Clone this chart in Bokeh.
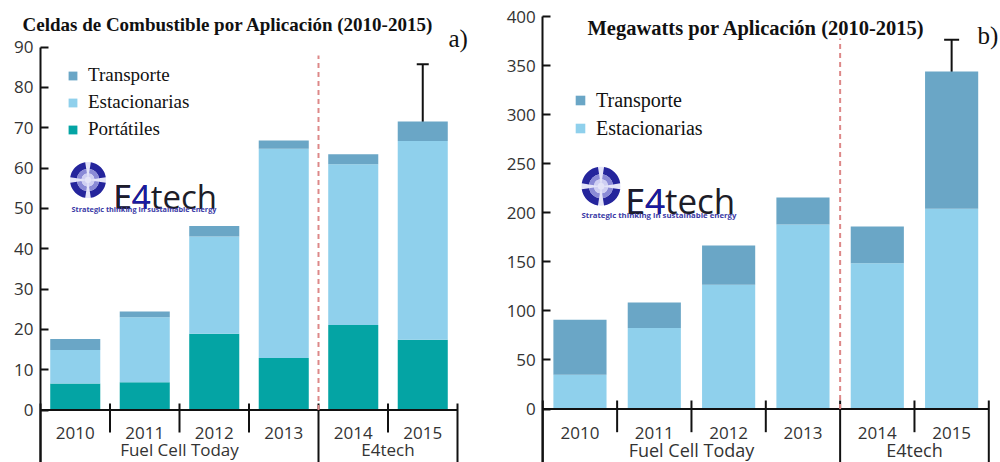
import numpy as np
from bokeh.plotting import figure
from bokeh.models import (ColumnDataSource, Label, Legend, LegendItem, Whisker,
                          TeeHead, FixedTicker, Range1d)
from bokeh.layouts import row
from bokeh.embed import file_html
from bokeh.resources import INLINE
from bokeh.core.properties import value

# ---------------- data ----------------
years = ["2010", "2011", "2012", "2013", "2014", "2015"]
sources = ["Fuel Cell Today", "Fuel Cell Today", "Fuel Cell Today", "Fuel Cell Today",
           "E4tech", "E4tech"]

# a) Fuel cells shipped by application (thousands)
fc_portatiles = [6.6, 6.9, 18.9, 12.9, 21.1, 17.4]
fc_estacionarias = [8.3, 16.1, 24.1, 51.9, 39.8, 49.3]
fc_transporte = [2.7, 1.4, 2.6, 2.0, 2.5, 4.8]
fc_error_2015 = [63.5, 85.7]
fc_ticks = [0, 10, 20, 30, 40, 50, 60, 70, 80, 90]

# b) Megawatts by application
mw_estacionarias = [35.0, 82.5, 126.5, 188.0, 148.5, 204.0]
mw_transporte = [56.0, 26.0, 40.0, 27.5, 37.5, 140.0]
mw_error_2015 = [323.6, 376.3]
mw_ticks = [0, 50, 100, 150, 200, 250, 300, 350, 400]

C_TRANS = "#6aa6c6"
C_EST = "#8fd0ec"
C_PORT = "#04a4a4"
TXT = "#333333"
INK = "#111111"
W, H = 500, 462


def make_chart(title, letter, series, labels, colors, ticks, err, *,
               axis_px, right_px, zero_px, top_px, bar_width,
               title_pos, title_size, letter_pos, legend_pos, legend_font,
               legend_glyph, legend_row, dash_top_px, tick_up_px, short_px,
               year_base_px, group_base_px, group_font, logo_px, logo_r,
               logo_text_pos, logo_font, tag_pos, tag_font, whisker_head, font_px):
    n = len(years)
    cat_w = (right_px - axis_px) / n
    y_top_tick = ticks[-1]
    scale = (zero_px - top_px) / y_top_tick          # px per unit
    x_start = -0.5 - axis_px / cat_w
    x_end = -0.5 + (W - axis_px) / cat_w
    y_end = zero_px / scale
    y_start = -(H - zero_px) / scale

    p = figure(width=W, height=H, output_backend="svg", toolbar_location=None,
               x_axis_location=None, min_border=0, min_border_left=0,
               min_border_right=0, min_border_top=0, min_border_bottom=0,
               x_range=Range1d(x_start, x_end), y_range=Range1d(y_start, y_end))
    p.outline_line_color = None
    p.xgrid.grid_line_color = None
    p.ygrid.grid_line_color = None

    # y axis, drawn at the left category edge
    ax = p.yaxis[0]
    ax.fixed_location = -0.5
    ax.bounds = (y_start, y_top_tick)
    ax.ticker = FixedTicker(ticks=ticks)
    ax.axis_line_width = 2
    ax.axis_line_color = INK
    ax.major_tick_line_width = 2
    ax.major_tick_line_color = INK
    ax.major_tick_in = 8
    ax.major_tick_out = 0
    ax.minor_tick_line_color = None
    ax.major_label_text_font = "Open Sans"
    ax.major_label_text_font_size = f"{font_px}px"
    ax.major_label_text_color = TXT
    ax.major_label_standoff = 7

    # bars
    idx = list(range(n))
    data = {"x": idx}
    for k, s in zip(labels, series):
        data[k] = s
    src = ColumnDataSource(data)
    rends = p.vbar_stack(labels, x="x", width=bar_width, color=colors, source=src,
                         line_color=None)

    # baseline
    p.segment(x0=[-0.5], y0=[0], x1=[n - 0.5], y1=[0], line_width=2, line_color=INK)

    # category separators
    up = tick_up_px / scale
    xs0, ys0, xs1, ys1 = [], [], [], []
    for i in range(n + 1):
        b = i - 0.5
        long_sep = i == 0 or i == n or sources[i - 1] != sources[i]
        xs0.append(b); xs1.append(b)
        ys0.append(up)
        ys1.append(y_start if long_sep else -short_px / scale)
    p.segment(x0=xs0, y0=ys0, x1=xs1, y1=ys1, line_width=2, line_color=INK)

    # year labels
    p.text(x=idx, y=[-year_base_px / scale] * n, text=years,
           text_font=value("Open Sans"), text_font_size=f"{font_px}px",
           text_align="center", text_baseline="alphabetic", text_color=TXT)
    # source (group) labels
    gnames, gcent = [], []
    for g in dict.fromkeys(sources):
        members = [i for i in idx if sources[i] == g]
        gnames.append(g)
        gcent.append(sum(members) / len(members))
    p.text(x=gcent, y=[-group_base_px / scale] * len(gnames), text=gnames,
           text_font=value("Open Sans"), text_font_size=f"{group_font}px",
           text_align="center", text_baseline="alphabetic", text_color=TXT)

    # dashed divider between sources
    bx = [i - 0.5 for i in range(1, n) if sources[i - 1] != sources[i]]
    dash_top = (zero_px - dash_top_px) / scale
    p.segment(x0=bx, y0=[0] * len(bx), x1=bx, y1=[dash_top] * len(bx),
              line_color="#dd8888", line_width=2, line_dash="5 4")

    # error bar on the last total
    ebar = ColumnDataSource(dict(x=[idx[-1]], lo=[err[0]], hi=[err[1]]))
    p.add_layout(Whisker(source=ebar, base="x", lower="lo", upper="hi",
                         line_width=2, line_color=INK,
                         upper_head=TeeHead(size=whisker_head, line_width=2, line_color=INK),
                         lower_head=TeeHead(size=whisker_head, line_width=2, line_color=INK)))

    # legend
    items = [LegendItem(label=lab, renderers=[r]) for lab, r in
             reversed(list(zip(labels, rends)))]
    leg = Legend(items=items, location=legend_pos, orientation="vertical",
                 padding=0, margin=0, spacing=3,
                 glyph_width=legend_glyph, glyph_height=legend_glyph,
                 label_standoff=10, label_height=legend_row - 3,
                 label_text_font="Liberation Serif",
                 label_text_font_size=f"{legend_font}px",
                 label_text_color=INK,
                 border_line_color=None, background_fill_alpha=0)
    p.add_layout(leg)

    # title and panel letter
    p.add_layout(Label(x=title_pos[0], y=H - title_pos[1], x_units="screen", y_units="screen",
                       text=title, text_font="Liberation Serif", text_font_style="bold",
                       text_font_size=f"{title_size}px", text_color=INK,
                       text_baseline="alphabetic"))
    p.add_layout(Label(x=letter_pos[0], y=H - letter_pos[1], x_units="screen", y_units="screen",
                       text=letter, text_font="Liberation Serif",
                       text_font_size="25px", text_color=INK,
                       text_baseline="alphabetic"))

    # E4tech logo (sphere with four dark segments)
    lx = -0.5 + (logo_px[0] - axis_px) / cat_w
    ly = (zero_px - logo_px[1]) / scale
    p.circle(x=[lx], y=[ly], radius=logo_r, radius_units="screen",
             fill_color="#e4e4f8", line_color=None)
    st = np.radians([9, 99, 189, 279])
    en = np.radians([81, 171, 261, 351])
    for r_in, r_out, col in ((0.62, 1.0, "#25259c"), (0.36, 0.62, "#8a8ad6"),
                             (0.18, 0.36, "#cfcff2")):
        p.annular_wedge(x=[lx] * 4, y=[ly] * 4, inner_radius=logo_r * r_in,
                        outer_radius=logo_r * r_out, inner_radius_units="screen",
                        outer_radius_units="screen", start_angle=st, end_angle=en,
                        fill_color=col, line_color=None)
    tx, ty = logo_text_pos
    for txt, col in (("E4tech", "#1d1d28"), ("E4", "#1a1aa0"), ("E", "#1d1d28")):
        p.add_layout(Label(x=tx, y=H - ty, x_units="screen", y_units="screen", text=txt,
                           text_font="Open Sans", text_font_size=f"{logo_font}px",
                           text_color=col, text_baseline="alphabetic"))
    p.add_layout(Label(x=tag_pos[0], y=H - tag_pos[1], x_units="screen", y_units="screen",
                       text="Strategic thinking in sustainable energy",
                       text_font="Open Sans", text_font_style="bold",
                       text_font_size=f"{tag_font}px", text_color="#3a3aa6",
                       text_baseline="alphabetic"))
    return p


t1 = "Celdas de Combustible por Aplicación (2010-2015)"
p1 = make_chart(t1, "a)", [fc_portatiles, fc_estacionarias, fc_transporte],
                ["Portátiles", "Estacionarias", "Transporte"],
                [C_PORT, C_EST, C_TRANS], fc_ticks, fc_error_2015,
                axis_px=40, right_px=457, zero_px=409.5, top_px=46.5, bar_width=0.72,
                title_pos=(22, 24), title_size=19, letter_pos=(448, 38),
                legend_pos=(67, 321), legend_font=19, legend_glyph=11, legend_row=27,
                dash_top_px=55, tick_up_px=6.5, short_px=22.5, year_base_px=23,
                group_base_px=39.5, group_font=17, logo_px=(87.5, 179.5), logo_r=18,
                logo_text_pos=(113, 196), logo_font=33, tag_pos=(71, 208),
                tag_font=7.3, whisker_head=12, font_px=17)

t2 = "Megawatts por Aplicación (2010-2015)"
p2 = make_chart(t2, "b)", [mw_estacionarias, mw_transporte],
                ["Estacionarias", "Transporte"],
                [C_EST, C_TRANS], mw_ticks, mw_error_2015,
                axis_px=42.3, right_px=488.3, zero_px=408.5, top_px=16, bar_width=0.715,
                title_pos=(87, 27), title_size=20.5, letter_pos=(477, 35),
                legend_pos=(74, 321.5), legend_font=20, legend_glyph=12, legend_row=28,
                dash_top_px=38, tick_up_px=8.5, short_px=23.2, year_base_px=24.2,
                group_base_px=40.5, group_font=18, logo_px=(100.5, 185.8), logo_r=19.5,
                logo_text_pos=(125, 200), logo_font=35, tag_pos=(81, 214.5),
                tag_font=7.8, whisker_head=15, font_px=17)

layout = row(p1, p2)
open("out.html", "w").write(file_html(layout, INLINE))
